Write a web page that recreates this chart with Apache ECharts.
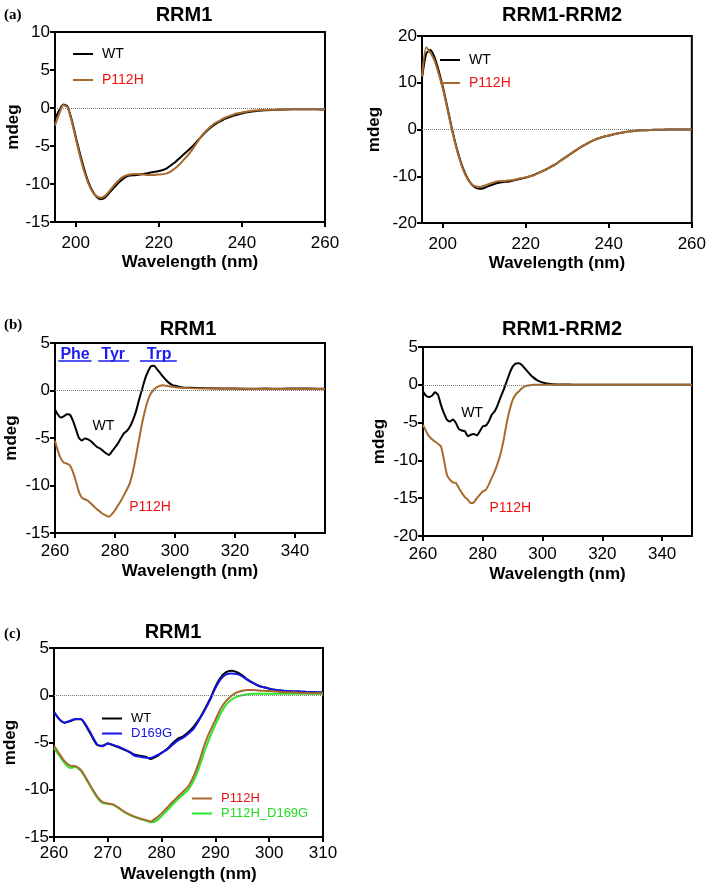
<!DOCTYPE html>
<html><head><meta charset="utf-8">
<script src="https://cdn.jsdelivr.net/npm/echarts@6/dist/echarts.min.js"></script>
<style>html,body{margin:0;padding:0;background:#fff}#c{width:709px;height:886px}</style>
</head><body><div id="c"></div>
<script>
// ---------- Data ----------
// (a) far-UV, RRM1
const waveA = [195,196,197,198,199,200,201,202,203,204,205,206,207,208,209,210,211,212,213,214,215,216,217,218,219,220,221,222,223,224,225,226,227,228,229,230,231,232,233,234,235,236,237,238,239,240,241,242,243,244,245,246,248,250,252,254,256,258,260];
const a1WT = [-1.5,-0.3,0.45,0.2,-1.5,-3.8,-6.0,-8.0,-9.7,-10.9,-11.7,-12.0,-11.8,-11.2,-10.6,-10.0,-9.5,-9.1,-8.9,-8.85,-8.8,-8.7,-8.6,-8.5,-8.4,-8.3,-8.15,-7.9,-7.5,-7.1,-6.6,-6.1,-5.6,-5.1,-4.5,-3.9,-3.3,-2.8,-2.35,-2.0,-1.7,-1.4,-1.2,-1.0,-0.85,-0.72,-0.6,-0.5,-0.42,-0.36,-0.32,-0.28,-0.24,-0.2,-0.18,-0.17,-0.17,-0.18,-0.2];
const a1P = [-2.3,-0.8,0.4,0.1,-1.7,-4.0,-6.3,-8.3,-9.9,-11.0,-11.6,-11.8,-11.6,-11.0,-10.3,-9.7,-9.2,-8.9,-8.75,-8.7,-8.7,-8.75,-8.8,-8.8,-8.8,-8.75,-8.7,-8.6,-8.3,-7.9,-7.4,-6.8,-6.2,-5.5,-4.7,-3.9,-3.2,-2.7,-2.2,-1.85,-1.55,-1.25,-1.05,-0.85,-0.7,-0.58,-0.48,-0.4,-0.34,-0.3,-0.27,-0.25,-0.22,-0.19,-0.17,-0.16,-0.16,-0.17,-0.18];
// (a) far-UV, RRM1-RRM2
const a2WT = [11.0,16.2,17.0,15.5,12.6,9.2,5.2,1.0,-2.8,-6.0,-8.6,-10.5,-11.8,-12.5,-12.7,-12.5,-12.1,-11.8,-11.5,-11.3,-11.2,-11.1,-10.9,-10.7,-10.5,-10.3,-10.0,-9.7,-9.3,-8.9,-8.5,-8.0,-7.5,-6.9,-6.3,-5.7,-5.1,-4.5,-3.9,-3.4,-2.9,-2.45,-2.05,-1.75,-1.5,-1.3,-1.05,-0.85,-0.68,-0.52,-0.4,-0.3,-0.18,-0.1,-0.05,-0.02,0,0,0];
const a2P = [11.3,17.6,16.4,14.8,12.0,8.8,4.9,0.8,-3.0,-6.2,-8.8,-10.6,-11.7,-12.2,-12.3,-12.0,-11.7,-11.4,-11.1,-11.0,-11.0,-10.9,-10.8,-10.6,-10.4,-10.2,-10.0,-9.75,-9.3,-8.9,-8.5,-8.0,-7.5,-6.9,-6.3,-5.7,-5.1,-4.5,-3.9,-3.4,-2.9,-2.45,-2.05,-1.75,-1.5,-1.3,-1.05,-0.85,-0.68,-0.52,-0.4,-0.3,-0.18,-0.1,-0.05,-0.02,0,0,0];
// (b) near-UV
const waveB = [260,261,262,263,264,265,266,267,268,269,270,271,272,273,274,275,276,277,278,279,280,281,282,283,284,285,286,287,288,289,290,291,292,293,294,295,296,297,298,299,300,302,305,310,315,320,325,330,335,340,345,350];
const b1WT = [-2.0,-2.55,-2.85,-2.7,-2.5,-2.55,-3.2,-4.1,-5.0,-5.25,-5.05,-5.15,-5.35,-5.65,-5.95,-6.1,-6.35,-6.6,-6.8,-6.4,-6.0,-5.55,-5.0,-4.5,-4.25,-3.8,-3.1,-2.2,-1.0,0.1,1.2,2.0,2.55,2.6,2.25,1.85,1.45,1.1,0.8,0.6,0.5,0.35,0.28,0.25,0.22,0.2,0.18,0.2,0.18,0.22,0.2,0.18];
const b1P = [-5.3,-6.4,-7.2,-7.6,-7.7,-7.9,-8.6,-9.6,-10.7,-11.3,-11.45,-11.6,-11.9,-12.2,-12.5,-12.75,-13.0,-13.15,-13.3,-13.0,-12.6,-12.1,-11.6,-11.0,-10.4,-9.7,-8.5,-6.9,-5.2,-3.5,-2.1,-1.0,-0.3,0.1,0.35,0.5,0.55,0.5,0.45,0.4,0.35,0.3,0.25,0.2,0.2,0.18,0.17,0.17,0.16,0.16,0.15,0.15];
const b2WT = [-0.9,-1.45,-1.6,-1.45,-1.0,-1.3,-2.65,-3.75,-4.6,-4.85,-4.6,-5.05,-5.85,-6.05,-6.15,-6.8,-6.6,-6.5,-6.7,-6.15,-5.5,-5.4,-4.85,-3.95,-3.5,-2.65,-1.6,-0.65,0.45,1.55,2.4,2.8,2.85,2.65,2.2,1.75,1.3,0.95,0.65,0.45,0.3,0.15,0.05,0.02,0,0,0,0,0,0,0,0];
const b2P = [-5.3,-6.1,-6.8,-7.2,-7.5,-7.8,-8.15,-9.9,-11.9,-12.55,-12.9,-13.0,-13.65,-14.3,-14.85,-15.2,-15.65,-15.55,-15.0,-14.55,-14.1,-13.9,-13.2,-12.3,-11.45,-10.35,-9.05,-7.25,-5.05,-3.3,-2.0,-1.3,-0.9,-0.5,-0.2,-0.1,-0.05,0,0,0,0,0,0,0,0,0,0,0,0,0,0,0];
// (c) near-UV, RRM1 variants
const waveC = [260,261,262,263,264,265,266,267,268,269,270,271,272,273,274,275,276,277,278,279,280,281,282,283,284,285,286,287,288,289,290,291,292,293,294,295,296,297,298,299,300,301,302,303,304,305,306,307,308,309,310];
const cWT = [-1.75,-2.55,-2.9,-2.75,-2.55,-2.55,-3.3,-4.3,-5.25,-5.35,-5.1,-5.3,-5.5,-5.75,-6.0,-6.3,-6.4,-6.5,-6.75,-6.5,-6.1,-5.7,-5.1,-4.6,-4.35,-3.9,-3.3,-2.5,-1.5,-0.4,0.9,1.9,2.45,2.6,2.45,2.1,1.65,1.3,1.0,0.85,0.7,0.58,0.5,0.45,0.42,0.4,0.38,0.35,0.33,0.3,0.28];
const cD169G = [-1.8,-2.55,-2.9,-2.7,-2.5,-2.5,-3.2,-4.2,-5.2,-5.4,-5.1,-5.25,-5.45,-5.7,-6.0,-6.4,-6.5,-6.6,-6.65,-6.4,-6.1,-5.75,-5.25,-4.8,-4.5,-4.05,-3.5,-2.6,-1.6,-0.5,0.75,1.7,2.2,2.3,2.25,2.0,1.6,1.3,1.0,0.85,0.7,0.58,0.5,0.45,0.42,0.4,0.38,0.35,0.33,0.3,0.28];
const cP = [-5.35,-6.2,-7.0,-7.45,-7.5,-7.9,-8.8,-9.8,-10.7,-11.3,-11.45,-11.55,-11.9,-12.3,-12.6,-12.85,-13.05,-13.2,-13.35,-13.0,-12.5,-11.9,-11.3,-10.75,-10.2,-9.6,-8.5,-7.0,-5.2,-3.8,-2.6,-1.4,-0.6,-0.05,0.3,0.48,0.55,0.55,0.5,0.48,0.45,0.4,0.35,0.32,0.3,0.28,0.25,0.24,0.22,0.21,0.2];
const cPD = [-5.6,-6.4,-7.2,-7.7,-7.6,-8.0,-8.9,-9.9,-10.8,-11.4,-11.5,-11.6,-11.95,-12.35,-12.65,-12.9,-13.1,-13.25,-13.45,-13.3,-12.8,-12.2,-11.6,-11.0,-10.5,-9.95,-9.0,-7.6,-5.9,-4.4,-3.1,-1.9,-1.0,-0.45,-0.15,0.0,0.1,0.15,0.15,0.15,0.15,0.15,0.15,0.15,0.15,0.15,0.15,0.15,0.15,0.15,0.15];
// tick labels
const ticksXA = [200,220,240,260];
const ticksXB = [260,280,300,320,340];
const ticksXC = [260,270,280,290,300,310];

// ---------- Styles ----------
const FONT = "'Liberation Sans', Arial, sans-serif";
const C_WT = '#000000', C_P = '#a8692c', C_D = '#1414e6', C_PD = '#2ee62e';
const pairs = (xs, ys) => xs.map((x, i) => [x, ys[i]]);

const grids = [
  {left:55, top:32, width:270, height:190},
  {left:422, top:36, width:271, height:187},
  {left:55, top:343, width:270, height:190},
  {left:423, top:347, width:269, height:189},
  {left:54, top:648, width:269, height:189}
].map(g => Object.assign(g, {show:true, borderColor:'#000', borderWidth:2, backgroundColor:'transparent'}));

function xAx(i, min, max, ticks, margin, gap) {
  return {type:'value', gridIndex:i, min, max,
    axisLine:{show:true, onZero:false, lineStyle:{color:'#000', width:2}},
    axisTick:{show:true, length:5, customValues:ticks, lineStyle:{color:'#000', width:2}},
    axisLabel:{customValues:ticks, fontSize:17, color:'#000', fontFamily:FONT, margin},
    splitLine:{show:false},
    name:'Wavelength (nm)', nameLocation:'middle', nameGap:gap,
    nameTextStyle:{fontWeight:'bold', fontSize:17, color:'#000', fontFamily:FONT}};
}
function yAx(i, min, max, interval, gap) {
  return {type:'value', gridIndex:i, min, max, interval,
    axisLine:{show:true, onZero:false, lineStyle:{color:'#000', width:2}},
    axisTick:{show:true, length:5, lineStyle:{color:'#000', width:2}},
    axisLabel:{fontSize:17, color:'#000', fontFamily:FONT, margin:5},
    splitLine:{show:false},
    name:'mdeg', nameLocation:'middle', nameGap:gap, nameRotate:90,
    nameTextStyle:{fontWeight:'bold', fontSize:17, color:'#000', fontFamily:FONT}};
}
const zeroLine = {silent:true, symbol:['none','none'], label:{show:false},
  lineStyle:{color:'#777', type:'dotted', width:1}, data:[{yAxis:0}]};

function line(name, i, xs, ys, color, extra) {
  return Object.assign({type:'line', name, xAxisIndex:i, yAxisIndex:i, data:pairs(xs, ys),
    showSymbol:false, symbol:'none', smooth:0.2, silent:true, animation:false,
    lineStyle:{color, width:2}, itemStyle:{color}}, extra || {});
}
function txt(name, coord, color, size, bold) {
  return {name, coord, symbol:'circle', symbolSize:1, itemStyle:{color:'rgba(0,0,0,0)'},
    label:{show:true, position:'inside', formatter:name, color, fontSize:size,
      fontWeight:bold ? 'bold' : 'normal', fontFamily:FONT}};
}
const BLUE = '#1c1cf0';
const b1Marks = {
  markLine:{silent:true, symbol:['none','none'], label:{show:false}, data:[
    {yAxis:0, lineStyle:{color:'#777', type:'dotted', width:1}},
    [{coord:[261.1,3.1], lineStyle:{color:BLUE, width:1.5, type:'solid'}},{coord:[272.2,3.1]}],
    [{coord:[274.4,3.1], lineStyle:{color:BLUE, width:1.5, type:'solid'}},{coord:[284.7,3.1]}],
    [{coord:[288.3,3.1], lineStyle:{color:BLUE, width:1.5, type:'solid'}},{coord:[300.6,3.1]}]
  ]},
  markPoint:{silent:true, data:[
    txt('Phe',[266.7,3.8],BLUE,16,true), txt('Tyr',[279.4,3.8],BLUE,16,true), txt('Trp',[294.7,3.8],BLUE,16,true),
    txt('WT',[276.1,-3.76],'#000',14,false)
  ]}
};

const series = [
  line('WT', 0, waveA, a1WT, C_WT, {markLine:zeroLine}),
  line('P112H', 0, waveA, a1P, C_P),
  line('WT', 1, waveA, a2WT, C_WT, {markLine:zeroLine}),
  line('P112H', 1, waveA, a2P, C_P),
  line('WT', 2, waveB, b1WT, C_WT, b1Marks),
  line('P112H', 2, waveB, b1P, C_P, {markPoint:{silent:true, data:[txt('P112H',[291.7,-12.3],'#ee1111',14,false)]}}),
  line('WT', 3, waveB, b2WT, C_WT, {markLine:zeroLine, markPoint:{silent:true, data:[txt('WT',[276.4,-3.75],'#000',14,false)]}}),
  line('P112H', 3, waveB, b2P, C_P, {markPoint:{silent:true, data:[txt('P112H',[289.2,-16.3],'#ee1111',14,false)]}}),
  line('WT', 4, waveC, cWT, C_WT, {markLine:zeroLine}),
  line('D169G', 4, waveC, cD169G, C_D),
  line('P112H_D169G', 4, waveC, cPD, C_PD),
  line('P112H', 4, waveC, cP, C_P)
];

function leg(left, top, items, fs, gap, ih) {
  return {left, top, orient:'vertical', itemWidth:20, itemHeight:ih, itemGap:gap, padding:0,
    selectedMode:false, icon:'path://M0,0L20,0L20,2L0,2Z',
    textStyle:{fontSize:fs, fontFamily:FONT, padding:[0,0,0,4]},
    data:items.map(([n,c,tc]) => ({name:n, itemStyle:{color:c}, textStyle:{color:tc}}))};
}

const titleStyle = {fontWeight:'bold', fontSize:20, color:'#000', fontFamily:FONT};
const panelStyle = {fontWeight:'bold', fontSize:15, color:'#000', fontFamily:"'Liberation Serif', 'DejaVu Serif', serif"};
const option = {
  backgroundColor:'#fff',
  animation:false,
  title:[
    {text:'RRM1', left:184, top:5, textAlign:'center', padding:0, textStyle:titleStyle},
    {text:'RRM1-RRM2', left:562, top:5, textAlign:'center', padding:0, textStyle:titleStyle},
    {text:'RRM1', left:188, top:319, textAlign:'center', padding:0, textStyle:titleStyle},
    {text:'RRM1-RRM2', left:562, top:319, textAlign:'center', padding:0, textStyle:titleStyle},
    {text:'RRM1', left:173, top:622, textAlign:'center', padding:0, textStyle:titleStyle},
    {text:'(a)', left:4, top:8, padding:0, textStyle:panelStyle},
    {text:'(b)', left:4, top:318, padding:0, textStyle:panelStyle},
    {text:'(c)', left:4, top:627, padding:0, textStyle:panelStyle}
  ],
  legend:[
    leg(73, 47, [['WT',C_WT,'#000'],['P112H',C_P,'#ee1111']], 14, 12, 16),
    leg(440, 53, [['WT',C_WT,'#000'],['P112H',C_P,'#ee1111']], 14, 9, 16),
    leg(102, 712, [['WT',C_WT,'#000'],['D169G',C_D,C_D]], 13, 2, 14),
    leg(192, 792, [['P112H',C_P,'#ee1111'],['P112H_D169G',C_PD,'#22dd22']], 13, 2, 14)
  ],
  grid:grids,
  xAxis:[
    xAx(0,195,260,ticksXA,13,32), xAx(1,195,260,ticksXA,13,32),
    xAx(2,260,350,ticksXB,10,30), xAx(3,260,350,ticksXB,10,30),
    xAx(4,260,310,ticksXC,8,29)
  ],
  yAxis:[
    yAx(0,-15,10,5,33), yAx(1,-20,20,10,39),
    yAx(2,-15,5,5,35), yAx(3,-20,5,5,35), yAx(4,-15,5,5,35)
  ],
  series
};
const chart = echarts.init(document.getElementById('c'), null, {renderer:'canvas'});
chart.setOption(option);
</script></body></html>
